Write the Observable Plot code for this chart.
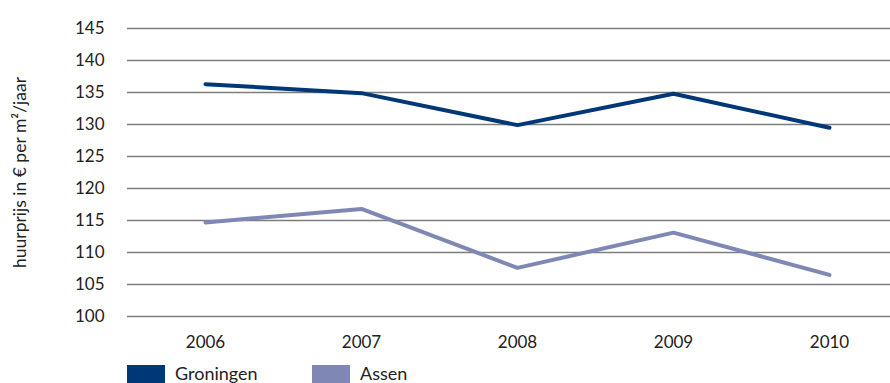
<!DOCTYPE html>
<html>
<head>
<meta charset="utf-8">
<script src="https://cdn.jsdelivr.net/npm/d3@7"></script>
<script src="https://cdn.jsdelivr.net/npm/@observablehq/plot@0.6"></script>
<style>
  html, body { margin: 0; padding: 0; background: #fff; }
  #wrap { width: 890px; height: 383px; overflow: hidden; position: relative; font-family: Lato, sans-serif; color: #222; }
  .legend { display: flex; align-items: flex-start; margin-left: 127px; margin-top: 9px; }
  .item { display: flex; align-items: flex-start; font-size: 18px; line-height: 18px; }
  .sw { width: 38px; height: 18px; margin-right: 10px; margin-top: 1px; }
</style>
</head>
<body>
<div id="wrap"></div>
<script>
// Huurprijs kantoren, € per m² per jaar
const years = ["2006", "2007", "2008", "2009", "2010"];
const groningen = [136.3, 134.9, 129.9, 134.8, 129.5];
const assen = [114.7, 116.8, 107.6, 113.1, 106.5];
const yTicks = [100, 105, 110, 115, 120, 125, 130, 135, 140, 145];
const seriesNames = ["Groningen", "Assen"];
const seriesColors = ["#003777", "#7f88b4"];
const yLabel = "huurprijs in € per m²/jaar";

const rows = [
  ...years.map((year, i) => ({year, value: groningen[i], series: seriesNames[0]})),
  ...years.map((year, i) => ({year, value: assen[i], series: seriesNames[1]}))
];

const chart = Plot.plot({
  width: 890,
  height: 355,
  marginTop: 28,
  marginBottom: 39,
  marginLeft: 127,
  marginRight: -17,
  style: {fontFamily: "Lato, sans-serif", fontSize: "17px", color: "#222", background: "transparent"},
  x: {type: "point", domain: years, padding: 0.5},
  y: {domain: [100, 145]},
  color: {domain: seriesNames, range: seriesColors},
  marks: [
    Plot.ruleY(yTicks, {stroke: "#7d7d7d", strokeWidth: 1.3}),
    Plot.axisY({ticks: yTicks, tickSize: 0, tickPadding: 23, label: null, tickFormat: d => String(d)}),
    Plot.axisX({tickSize: 0, tickPadding: 19, label: null}),
    Plot.text([yLabel], {frameAnchor: "left", rotate: -90, dx: -107, fontSize: 17.5, fill: "#222", textAnchor: "middle"}),
    Plot.lineY(rows, {x: "year", y: "value", z: "series", stroke: "series", strokeWidth: 4, strokeLinecap: "round"})
  ]
});

const wrap = document.getElementById("wrap");
wrap.appendChild(chart);

const legend = document.createElement("div");
legend.className = "legend";
seriesNames.forEach((name, i) => {
  const item = document.createElement("div");
  item.className = "item";
  item.style.width = i === 0 ? "185px" : "auto";
  const sw = document.createElement("span");
  sw.className = "sw";
  sw.style.background = seriesColors[i];
  const label = document.createElement("span");
  label.textContent = name;
  item.appendChild(sw);
  item.appendChild(label);
  legend.appendChild(item);
});
wrap.appendChild(legend);
</script>
</body>
</html>
